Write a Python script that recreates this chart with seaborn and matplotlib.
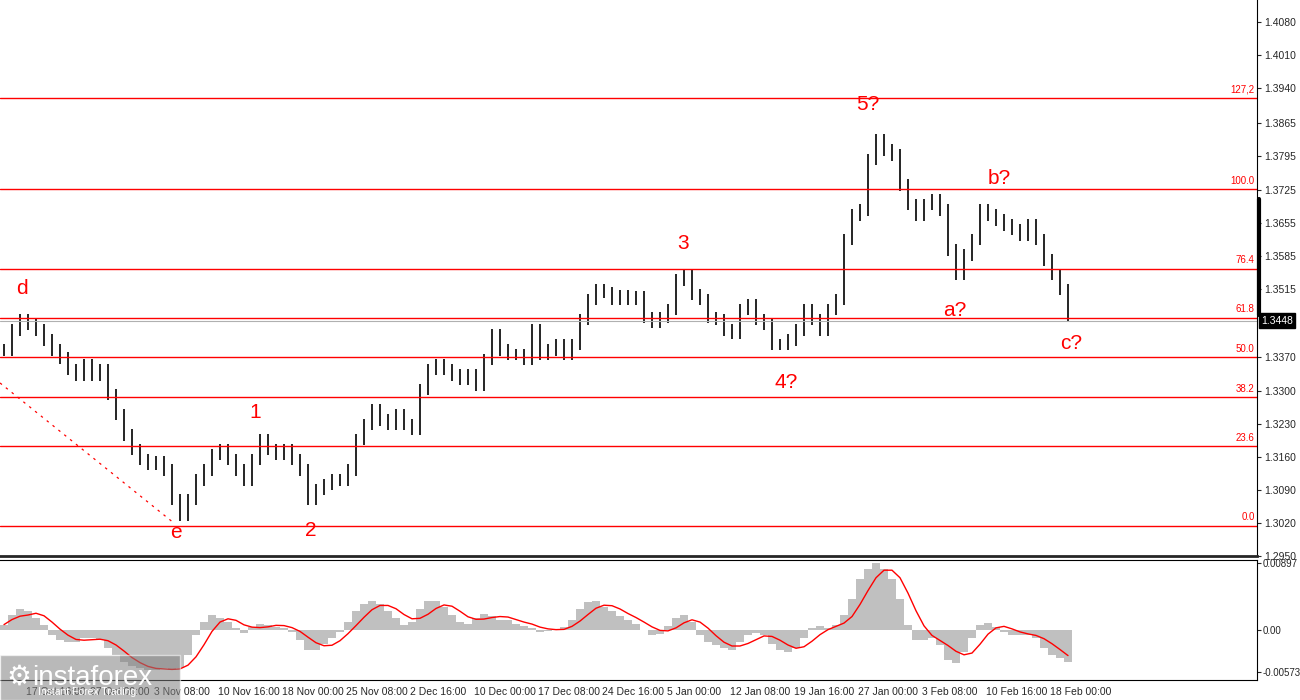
import numpy as np
import pandas as pd
import matplotlib.pyplot as plt
import seaborn as sns

# ── Data (one value per ~4h-bar group) ───────────────────────────────────────
close = [
    1.3386, 1.3428, 1.3450, 1.3439, 1.3428, 1.3407, 1.3386, 1.3369, 1.3344, 1.3333,
    1.3354, 1.3333, 1.3344, 1.3291, 1.3249, 1.3206, 1.3175, 1.3154, 1.3143, 1.3149,
    1.3132, 1.3069, 1.3037, 1.3069, 1.3111, 1.3132, 1.3164, 1.3175, 1.3154, 1.3132,
    1.3111, 1.3154, 1.3196, 1.3175, 1.3164, 1.3175, 1.3154, 1.3132, 1.3069, 1.3090,
    1.3101, 1.3111, 1.3111, 1.3132, 1.3196, 1.3228, 1.3259, 1.3238, 1.3228, 1.3249,
    1.3228, 1.3217, 1.3302, 1.3344, 1.3354, 1.3344, 1.3333, 1.3323, 1.3333, 1.3312,
    1.3365, 1.3418, 1.3386, 1.3376, 1.3376, 1.3365, 1.3428, 1.3376, 1.3386, 1.3397,
    1.3376, 1.3397, 1.3450, 1.3492, 1.3513, 1.3507, 1.3492, 1.3500, 1.3492, 1.3498,
    1.3454, 1.3445, 1.3454, 1.3471, 1.3534, 1.3545, 1.3503, 1.3492, 1.3454, 1.3450,
    1.3428, 1.3422, 1.3471, 1.3481, 1.3450, 1.3439, 1.3397, 1.3397, 1.3407, 1.3428,
    1.3471, 1.3450, 1.3428, 1.3471, 1.3492, 1.3619, 1.3671, 1.3682, 1.3788, 1.3830,
    1.3809, 1.3798, 1.3735, 1.3693, 1.3671, 1.3693, 1.3703, 1.3682, 1.3597, 1.3545,
    1.3587, 1.3619, 1.3682, 1.3671, 1.3661, 1.3650, 1.3640, 1.3629, 1.3650, 1.3619,
    1.3576, 1.3545, 1.3513, 1.3460,
]
hist_px = [
    5, 15, 20, 18, 12, 5, -5, -10, -12, -12, -8, -8, -10, -18, -25, -32, -36, -38, -40, -40,
    -38, -40, -38, -25, -5, 8, 15, 12, 8, 2, -3, 3, 6, 5, 3, 2, -2, -10, -20, -20,
    -14, -8, -2, 8, 18, 25, 28, 25, 18, 12, 5, 8, 20, 28, 28, 22, 15, 8, 6, 12,
    16, 14, 10, 10, 6, 4, 2, -2, -1, 1, 3, 10, 20, 27, 28, 22, 18, 14, 10, 6,
    0, -5, -4, 4, 12, 15, 8, -5, -12, -15, -18, -20, -12, -5, -3, -5, -14, -20, -22, -18,
    -8, 2, 4, 2, 5, 15, 30, 50, 60, 66, 60, 50, 30, 5, -10, -10, -8, -15, -30, -33,
    -22, -8, 5, 7, 3, -2, -5, -5, -5, -8, -18, -25, -28, -32,
]
osma = np.array(hist_px) * 0.000136
signal = pd.Series(osma).rolling(4, min_periods=1).mean().to_numpy()

price_ticks = [1.4080, 1.4010, 1.3940, 1.3865, 1.3795, 1.3725, 1.3655, 1.3585, 1.3515,
               1.3370, 1.3300, 1.3230, 1.3160, 1.3090, 1.3020, 1.2950]
fib_low, fib_high = 1.3014, 1.3726
fib_levels = [0.0, 0.236, 0.382, 0.5, 0.618, 0.764, 1.0, 1.272]
fib_names = ["0.0", "23.6", "38.2", "50.0", "61.8", "76.4", "100.0", "127,2"]
last_price = 1.3448

wave_text = ["d", "e", "1", "2", "3", "4?", "5?", "a?", "b?", "c?"]
wave_bar = [2.3, 21.5, 31.4, 38.4, 84.9, 97.8, 108, 118.9, 124.4, 133.4]
wave_price = [1.3516, 1.3000, 1.3253, 1.3003, 1.3612, 1.3317, 1.3905, 1.3470, 1.3748, 1.3400]

date_labels = ["17 Oct 16:00", "27 Oct 00:00", "3 Nov 08:00", "10 Nov 16:00", "18 Nov 00:00",
               "25 Nov 08:00", "2 Dec 16:00", "10 Dec 00:00", "17 Dec 08:00", "24 Dec 16:00",
               "5 Jan 00:00", "12 Jan 08:00", "19 Jan 16:00", "27 Jan 00:00", "3 Feb 08:00",
               "10 Feb 16:00", "18 Feb 00:00"]
date_px = [26, 90, 154, 218, 282, 346, 410, 474, 538, 602, 667, 730, 794, 858, 922, 986, 1050]

# ── Figure ───────────────────────────────────────────────────────────────────
sns.set_style("white")
plt.rcParams["font.family"] = ["Liberation Sans", "DejaVu Sans"]
fig = plt.figure(figsize=(13, 7), dpi=100)
ax = fig.add_axes([0, 1 - 556 / 700, 1257 / 1300, 556 / 700])
ax2 = fig.add_axes([0, 1 - 680 / 700, 1257 / 1300, 120 / 700])

n = len(close)
idx = np.arange(n)
px2i = lambda p: (p - 4) / 8.0
xlim = (px2i(0), px2i(1257))

# price bars
prev = np.r_[close[0], close[:-1]]
hi = np.maximum(prev, close) + 0.0012
lo = np.minimum(prev, close) - 0.0012
ax.vlines(idx, lo, hi, color="black", lw=1.2)

for lv, nm in zip(fib_levels, fib_names):
    y = fib_low + (fib_high - fib_low) * lv
    ax.axhline(y, color="red", lw=1)
    ax.text(xlim[1] - 0.3, y + 0.0007, nm, color="red", fontsize=7, ha="right", va="bottom")
ax.axhline(last_price, color="#b0b0b0", lw=0.8)
ax.plot([px2i(0), px2i(172)], [1.3316, 1.3023], color="red", ls=(0, (2, 4)), lw=0.9)

for t, b, p in zip(wave_text, wave_bar, wave_price):
    ax.text(b, p, t, color="red", fontsize=15, ha="center", va="center")

ax.set_xlim(*xlim)
ax.set_ylim(1.2951, 1.4126)
ax.yaxis.tick_right()
ax.set_yticks(price_ticks)
ax.set_yticklabels([f"{v:.4f}" for v in price_ticks], fontsize=7.5)
ax.tick_params(axis="y", length=3, pad=2, direction="out", right=True)
ax.set_xticks([])
for s in ["top", "left"]:
    ax.spines[s].set_visible(False)
ax.spines["right"].set_color("black")
ax.spines["bottom"].set_linewidth(2)
ax.text(1.003, last_price, f"{last_price:.4f}", transform=ax.get_yaxis_transform(),
        color="white", fontsize=7.5, va="center", ha="left",
        bbox=dict(facecolor="black", edgecolor="black", pad=1.5))
ax.plot([1.0015, 1.0015], [1.3460, 1.3705], transform=ax.get_yaxis_transform(),
        color="black", lw=3, clip_on=False)

# oscillator panel
ax2.bar(idx, osma, width=1.0, color="#c0c0c0", edgecolor="none")
ax2.plot(idx, signal, color="red", lw=1)
ax2.set_xlim(*xlim)
ax2.set_ylim(-0.0068, 0.0094)
ax2.yaxis.tick_right()
ax2.set_yticks([0.00897, 0.0, -0.00573])
ax2.set_yticklabels(["0.00897", "0.00", "-0.00573"], fontsize=7)
ax2.tick_params(axis="y", length=3, pad=1)
ax2.set_xticks([px2i(p) for p in date_px])
ax2.set_xticklabels(date_labels, fontsize=7.5, ha="left")
ax2.tick_params(axis="x", length=3, pad=2)
for s in ax2.spines.values():
    s.set_color("black")
ax2.spines["left"].set_visible(False)

# watermark
fig.patches.append(plt.Rectangle((0, 0), 180 / 1300, 45 / 700, transform=fig.transFigure,
                                 facecolor="#808080", alpha=0.55, zorder=5))
fig.text(32 / 1300, 22 / 700, "instaforex", color="white", fontsize=20, va="center", zorder=6)
fig.text(38 / 1300, 5 / 700, "Instant Forex Trading", color="white", fontsize=7.5, zorder=6)
fig.text(6 / 1300, 22 / 700, "⚙", color="white", fontsize=20, va="center", zorder=6)

fig.savefig("out.png", dpi=100)
